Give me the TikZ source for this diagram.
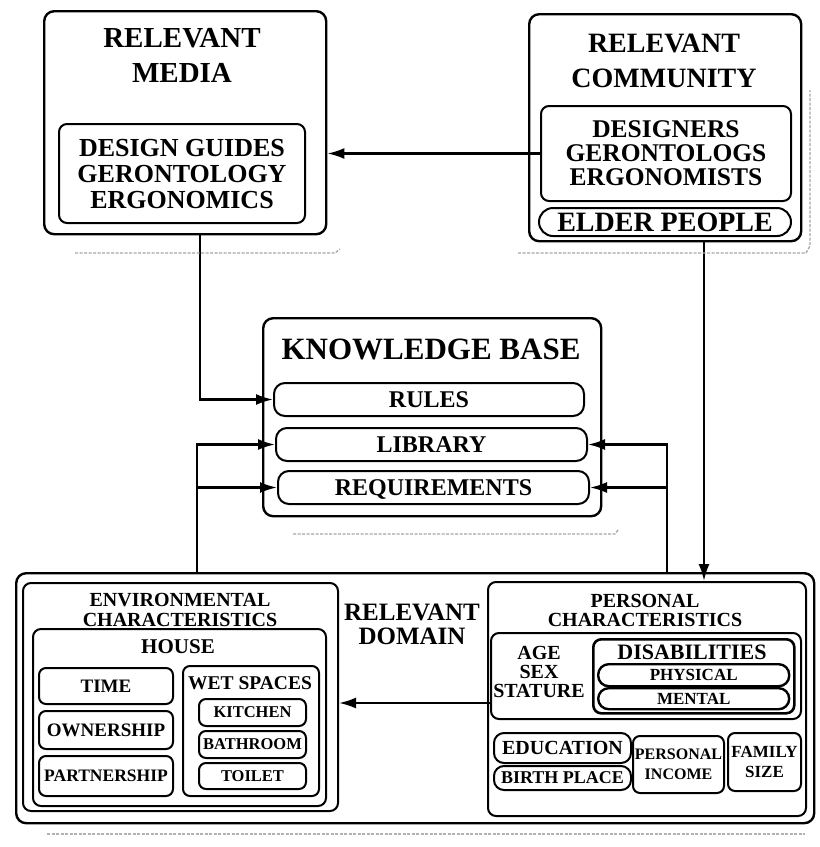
\documentclass[tikz,border=0pt]{standalone}
\usepackage{fontspec}
\setmainfont{Liberation Serif}
\usetikzlibrary{arrows.meta}
\newcommand{\tf}[2]{\fontsize{#1}{#2}\selectfont\bfseries}
% \rb{name}{style}{x}{y}{w}{h}{text}: box with top-left corner at (x,y)
\newcommand{\rb}[7]{\node[#2, minimum width=#5pt, minimum height=#6pt] (#1) at (#3,#4) {#7};}

\begin{document}
\begin{tikzpicture}[x=1pt,y=-1pt,
  frame/.style={draw, line width=2.4pt, rounded corners=10pt, inner sep=0pt, anchor=north west, align=center, text depth=0pt},
  ibox/.style={draw, line width=2pt, rounded corners=8pt, inner sep=0pt, anchor=north west, align=center, text depth=0pt},
  sbox/.style={draw, line width=2pt, rounded corners=7pt, inner sep=0pt, anchor=north west, align=center, text depth=0pt},
  pill/.style={draw, line width=2.4pt, rounded corners=10.5pt, inner sep=0pt, anchor=north west, align=center, text depth=0pt},
  lbl/.style={inner sep=0pt, align=center, text depth=0pt},
  link/.style={line width=2.2pt},
  arr/.style={link, -{Latex[length=17pt,width=11pt]}},
  shade/.style={gray!70, line width=1.3pt, dash pattern=on 3pt off 1.5pt}]

\useasboundingbox[fill=white] (0,0) rectangle (820,847);

% ---------- relevant media ----------
\rb{media}{frame}{43}{10}{282}{223}{}
\node[lbl, font=\tf{29}{35}] (mediat) at (182,55.5) {RELEVANT\\MEDIA};
\rb{mediain}{ibox, font=\tf{26}{26}}{58}{123}{246}{99}{DESIGN GUIDES\\GERONTOLOGY\\ERGONOMICS}

% ---------- relevant community ----------
\rb{comm}{frame}{528}{13}{272}{227}{}
\node[lbl, font=\tf{28}{35}] (commt) at (664,60.5) {RELEVANT\\COMMUNITY};
\rb{commin}{ibox, font=\tf{25.5}{24}}{540}{105}{250}{95}{DESIGNERS\\GERONTOLOGS\\ERGONOMISTS}
\rb{elder}{ibox, rounded corners=14pt, font=\tf{28}{28}}{538}{207}{252}{28}{ELDER PEOPLE}

% ---------- knowledge base ----------
\rb{kb}{frame}{262}{317}{338}{198}{}
\node[lbl, font=\tf{31}{31}] (kbt) at (431,349) {KNOWLEDGE BASE};
\rb{rules}{sbox, rounded corners=11pt, font=\tf{24}{24}}{273}{382}{310}{33}{RULES}
\rb{library}{sbox, rounded corners=11pt, font=\tf{24}{24}}{275}{427}{311}{33}{LIBRARY}
\rb{req}{sbox, rounded corners=11pt, font=\tf{24}{24}}{277}{470}{311}{33}{REQUIREMENTS}

% ---------- relevant domain ----------
\rb{domain}{frame}{15}{572}{798}{250}{}
\node[lbl, font=\tf{25}{24}] (domaint) at (412,624) {RELEVANT\\DOMAIN};

% environmental characteristics
\rb{env}{ibox}{22}{582}{315}{228}{}
\node[lbl, font=\tf{20}{20}] (envt) at (180,610) {ENVIRONMENTAL\\CHARACTERISTICS};
\rb{house}{ibox}{32}{628}{293}{177}{}
\node[lbl, font=\tf{21}{21}] (houset) at (178,647) {HOUSE};
\rb{time}{sbox, font=\tf{19}{19}}{38}{667}{134}{36}{TIME}
\rb{owner}{sbox, font=\tf{19}{19}}{38}{710}{134}{38}{OWNERSHIP}
\rb{partner}{sbox, font=\tf{17.5}{18}}{38}{755}{134}{40}{PARTNERSHIP}
\rb{wet}{sbox}{182}{665}{136}{130}{}
\node[lbl, font=\tf{19.5}{20}] (wett) at (250,683) {WET SPACES};
\rb{kitchen}{sbox, font=\tf{16.5}{17}}{198}{698}{107}{27}{KITCHEN}
\rb{bath}{sbox, font=\tf{16.5}{17}}{198}{730}{107}{27}{BATHROOM}
\rb{toilet}{sbox, font=\tf{16.5}{17}}{198}{762}{107}{26}{TOILET}

% personal characteristics
\rb{personal}{ibox}{487}{581}{318}{234}{}
\node[lbl, font=\tf{20}{19}] (perst) at (645,610) {PERSONAL\\CHARACTERISTICS};
\rb{agebox}{ibox}{490}{632}{310}{86}{}
\node[lbl, font=\tf{20}{19}] (age) at (539,672) {AGE\\SEX\\STATURE};
\rb{disab}{ibox, line width=2.6pt}{592}{638}{201}{74}{}
\node[lbl, font=\tf{22}{22}] (disabt) at (692,652) {DISABILITIES};
\rb{physical}{pill, font=\tf{17}{17}}{597}{663}{191}{22}{PHYSICAL}
\rb{mental}{pill, font=\tf{17}{17}}{597}{687}{191}{21}{MENTAL}
\rb{educ}{sbox, rounded corners=10pt, font=\tf{20}{20}}{493}{732}{137}{30}{EDUCATION}
\rb{birth}{sbox, rounded corners=10pt, font=\tf{18}{18}}{493}{765}{137}{24}{BIRTH PLACE}
\rb{income}{sbox, font=\tf{16}{20}}{632}{735}{91}{57}{PERSONAL\\INCOME}
\rb{family}{sbox, font=\tf{17}{20}}{727}{732}{73}{58}{FAMILY\\SIZE}

% ---------- connectors ----------
\coordinate (mx) at (200,0);
\coordinate (cx) at (704,0);
\coordinate (lx) at (197,0);
\coordinate (rx) at (667,0);
\draw[arr] (commin.west) -- (commin.west -| media.east);
\draw[arr] (media.south -| mx) |- (rules.west);
\draw[arr] (comm.south -| cx) -- (personal.north -| cx);
\draw[arr] (domain.north -| lx) |- (library.west);
\draw[arr] (req.west -| lx) -- (req.west);
\draw[arr] (domain.north -| rx) |- (library.east);
\draw[arr] (req.east -| rx) -- (req.east);
\draw[arr] ([yshift=-27pt]agebox.west) -- ([yshift=-27pt]agebox.west -| env.east);

% ---------- faint drop shadows ----------
\draw[shade] (75,253) -- (335,253) -- (340,249);
\draw[shade] (518,253) -- (806,253) -- (810,246) -- (810,90);
\draw[shade] (293,534) -- (615,534) -- (618,530);
\draw[shade, gray!60, line width=1.8pt] (47,834) -- (805,834);
\end{tikzpicture}
\end{document}
